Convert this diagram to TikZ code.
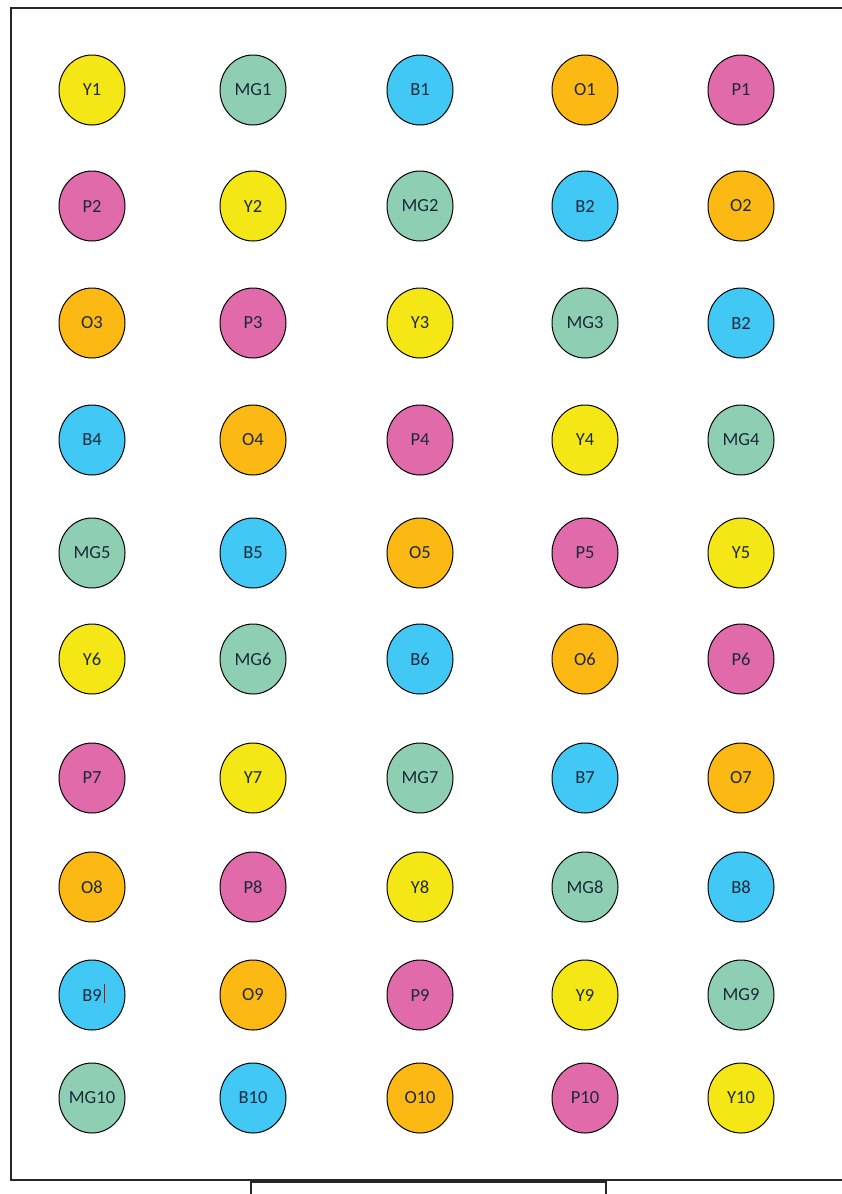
\documentclass[tikz,border=0pt]{standalone}
\usepackage{fontspec}
\setmainfont{Carlito}
\usetikzlibrary{shapes.geometric}
\definecolor{cY}{HTML}{F5E716}
\definecolor{cMG}{HTML}{8ECFB4}
\definecolor{cB}{HTML}{42C8F4}
\definecolor{cO}{HTML}{FDB913}
\definecolor{cP}{HTML}{E06AAA}
\definecolor{txt}{HTML}{1A2A3A}
\tikzset{
  dot/.style={ellipse, draw=black, line width=1pt, minimum width=66pt, minimum height=70pt, inner sep=0pt, font=\fontsize{18.5}{18.5}\selectfont, text=txt},
  frame/.style={draw=black!85, line width=1.4pt},
}
\begin{document}
\begin{tikzpicture}[x=1pt,y=-1pt]
\useasboundingbox (0,0) rectangle (841,1194);
\fill[white] (0,0) rectangle (841,1194);
\draw[frame] (845,8) -- (11,8) -- (11,1180) -- (845,1180);
\draw[frame] (251,1198) -- (251,1182) -- (606,1182) -- (606,1198);
\def\cols{{92,253,420,585,741}}
\def\rows{{90,206,323,440,553,659,778,887,995,1098}}
\foreach \lab/\col [count=\i from 0] in {
  Y1/cY,MG1/cMG,B1/cB,O1/cO,P1/cP,
  P2/cP,Y2/cY,MG2/cMG,B2/cB,O2/cO,
  O3/cO,P3/cP,Y3/cY,MG3/cMG,B2/cB,
  B4/cB,O4/cO,P4/cP,Y4/cY,MG4/cMG,
  MG5/cMG,B5/cB,O5/cO,P5/cP,Y5/cY,
  Y6/cY,MG6/cMG,B6/cB,O6/cO,P6/cP,
  P7/cP,Y7/cY,MG7/cMG,B7/cB,O7/cO,
  O8/cO,P8/cP,Y8/cY,MG8/cMG,B8/cB,
  B9/cB,O9/cO,P9/cP,Y9/cY,MG9/cMG,
  MG10/cMG,B10/cB,O10/cO,P10/cP,Y10/cY}{
  \pgfmathtruncatemacro{\r}{div(\i,5)}
  \pgfmathtruncatemacro{\c}{mod(\i,5)}
  \pgfmathsetmacro{\xx}{\cols[\c]}
  \pgfmathsetmacro{\yy}{\rows[\r]}
  \node[dot, fill=\col] (n\r-\c) at (\xx,\yy) {\lab};
}
\draw[red!85!black, line width=1pt] (104,984) -- (104,1003);
\end{tikzpicture}
\end{document}
